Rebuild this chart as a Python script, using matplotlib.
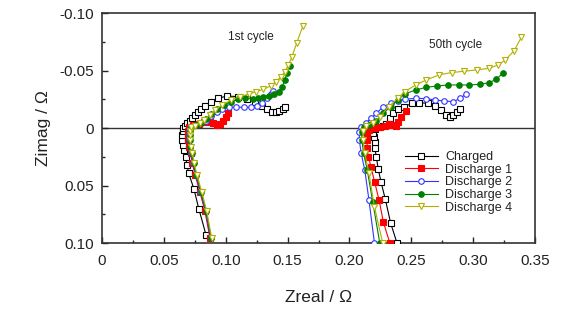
import matplotlib
matplotlib.use("Agg")
import matplotlib.pyplot as plt
from matplotlib.ticker import MultipleLocator, FixedLocator

plt.rcParams['font.family'] = ['Liberation Sans', 'DejaVu Sans']

labels = ["Charged", "Discharge 1", "Discharge 2", "Discharge 3", "Discharge 4"]
colors = ["#000000", "#FF0000", "#3333FF", "#008000", "#B0B000"]
markers = ["s", "s", "o", "o", "v"]
filled = [False, True, False, True, False]

# ---- 1st cycle ----
c1_charged_x = [0.0840, 0.0782, 0.0742, 0.0701, 0.0687, 0.0675, 0.0660, 0.0655, 0.0649, 0.0649, 0.0652,
                0.0658, 0.0669, 0.0687, 0.0710, 0.0730, 0.0753, 0.0774, 0.0797, 0.0832, 0.0878, 0.0936,
                0.1014, 0.1100, 0.1173, 0.1237, 0.1290, 0.1333, 0.1376, 0.1405, 0.1434, 0.1463, 0.1483]
c1_charged_y = [0.0927, 0.0700, 0.0526, 0.0395, 0.0317, 0.0250, 0.0195, 0.0148, 0.0105, 0.0060, 0.0026,
                0.0000, -0.0017, -0.0040, -0.0064, -0.0084, -0.0110, -0.0137, -0.0166, -0.0192, -0.0230, -0.0259,
                -0.0279, -0.0273, -0.0256, -0.0230, -0.0190, -0.0163, -0.0142, -0.0137, -0.0148, -0.0169, -0.0186]

c1_d1_x = [0.0872, 0.0832, 0.0791, 0.0753, 0.0730, 0.0716, 0.0704, 0.0698, 0.0698, 0.0698, 0.0704,
           0.0739, 0.0782, 0.0826, 0.0869, 0.0898, 0.0927, 0.0956, 0.0979, 0.1000, 0.1020]
c1_d1_y = [0.0953, 0.0724, 0.0555, 0.0410, 0.0308, 0.0220, 0.0163, 0.0105, 0.0060, 0.0026, -0.0010,
           -0.0026, -0.0035, -0.0052, -0.0055, -0.0040, -0.0030, -0.0035, -0.0064, -0.0099, -0.0134]

c1_d2_x = [0.0877, 0.0837, 0.0796, 0.0758, 0.0735, 0.0721, 0.0709, 0.0703, 0.0703, 0.0705, 0.0712,
           0.0760, 0.0800, 0.0840, 0.0884, 0.0927, 0.0970, 0.1029, 0.1086, 0.1144, 0.1202, 0.1255,
           0.1295, 0.1333, 0.1362, 0.1382]
c1_d2_y = [0.0955, 0.0724, 0.0555, 0.0410, 0.0308, 0.0220, 0.0163, 0.0105, 0.0060, 0.0026, -0.0005,
           -0.0026, -0.0040, -0.0064, -0.0105, -0.0142, -0.0163, -0.0180, -0.0183, -0.0180, -0.0180, -0.0192,
           -0.0221, -0.0259, -0.0297, -0.0326]

c1_d3_x = [0.0882, 0.0842, 0.0801, 0.0763, 0.0740, 0.0726, 0.0714, 0.0708, 0.0708, 0.0710, 0.0716,
           0.0760, 0.0800, 0.0840, 0.0884, 0.0927, 0.0985, 0.1043, 0.1101, 0.1159, 0.1217, 0.1260,
           0.1304, 0.1347, 0.1391, 0.1428, 0.1457, 0.1478, 0.1492, 0.1521]
c1_d3_y = [0.0957, 0.0724, 0.0555, 0.0410, 0.0308, 0.0220, 0.0163, 0.0105, 0.0060, 0.0026, -0.0005,
           -0.0026, -0.0045, -0.0076, -0.0119, -0.0163, -0.0200, -0.0230, -0.0250, -0.0259, -0.0253, -0.0265,
           -0.0273, -0.0282, -0.0297, -0.0317, -0.0360, -0.0419, -0.0477, -0.0541]

c1_d4_x = [0.0887, 0.0847, 0.0806, 0.0768, 0.0745, 0.0731, 0.0719, 0.0713, 0.0713, 0.0715, 0.0721,
           0.0750, 0.0790, 0.0826, 0.0869, 0.0913, 0.0970, 0.1043, 0.1115, 0.1188, 0.1246, 0.1304,
           0.1362, 0.1405, 0.1449, 0.1478, 0.1507, 0.1536, 0.1573, 0.1622]
c1_d4_y = [0.0960, 0.0724, 0.0555, 0.0410, 0.0308, 0.0220, 0.0163, 0.0105, 0.0060, 0.0026, -0.0005,
           -0.0020, -0.0040, -0.0070, -0.0113, -0.0157, -0.0200, -0.0244, -0.0273, -0.0297, -0.0317, -0.0337,
           -0.0366, -0.0404, -0.0448, -0.0491, -0.0549, -0.0622, -0.0738, -0.0884]

# ---- 50th cycle ----
c50_charged_x = [0.2384, 0.2333, 0.2290, 0.2255, 0.2232, 0.2217, 0.2206, 0.2203, 0.2197, 0.2194, 0.2203,
                 0.2232, 0.2269, 0.2298, 0.2327, 0.2356, 0.2396, 0.2443, 0.2506, 0.2564, 0.2636, 0.2694,
                 0.2743, 0.2781, 0.2810, 0.2839, 0.2868, 0.2897]
c50_charged_y = [0.1000, 0.0826, 0.0620, 0.0468, 0.0352, 0.0250, 0.0177, 0.0120, 0.0076, 0.0040, 0.0010,
                 -0.0009, -0.0017, -0.0035, -0.0084, -0.0128, -0.0163, -0.0186, -0.0215, -0.0221, -0.0215, -0.0192,
                 -0.0157, -0.0113, -0.0099, -0.0113, -0.0142, -0.0163]

c50_d1_x = [0.2326, 0.2274, 0.2240, 0.2203, 0.2174, 0.2153, 0.2144, 0.2142, 0.2145, 0.2159, 0.2203,
            0.2245, 0.2290, 0.2318, 0.2347, 0.2376, 0.2396, 0.2419, 0.2454]
c50_d1_y = [0.1000, 0.0817, 0.0628, 0.0468, 0.0337, 0.0250, 0.0177, 0.0105, 0.0047, 0.0017, 0.0003,
            -0.0006, -0.0017, -0.0035, -0.0026, -0.0017, -0.0055, -0.0099, -0.0148]

c50_d2_x = [0.2202, 0.2158, 0.2124, 0.2095, 0.2080, 0.2080, 0.2095, 0.2130, 0.2173, 0.2217, 0.2274,
            0.2332, 0.2390, 0.2448, 0.2535, 0.2622, 0.2694, 0.2767, 0.2839, 0.2897, 0.2941]
c50_d2_y = [0.1000, 0.0628, 0.0366, 0.0221, 0.0105, 0.0032, -0.0012, -0.0040, -0.0084, -0.0128, -0.0186,
            -0.0215, -0.0235, -0.0250, -0.0259, -0.0256, -0.0244, -0.0235, -0.0230, -0.0259, -0.0297]

c50_d3_x = [0.2245, 0.2188, 0.2144, 0.2115, 0.2100, 0.2100, 0.2115, 0.2159, 0.2217, 0.2274, 0.2332,
            0.2390, 0.2448, 0.2535, 0.2622, 0.2709, 0.2796, 0.2883, 0.2970, 0.3057, 0.3130, 0.3187, 0.3245]
c50_d3_y = [0.1000, 0.0640, 0.0366, 0.0221, 0.0105, 0.0032, -0.0006, -0.0026, -0.0064, -0.0128, -0.0186,
            -0.0244, -0.0297, -0.0331, -0.0355, -0.0366, -0.0375, -0.0375, -0.0375, -0.0381, -0.0395, -0.0424, -0.0483]

c50_d4_x = [0.2269, 0.2202, 0.2158, 0.2124, 0.2109, 0.2109, 0.2130, 0.2188, 0.2245, 0.2318, 0.2390,
            0.2448, 0.2535, 0.2622, 0.2723, 0.2825, 0.2926, 0.3028, 0.3129, 0.3202, 0.3260, 0.3332, 0.3390]
c50_d4_y = [0.1000, 0.0686, 0.0395, 0.0221, 0.0105, 0.0026, -0.0017, -0.0047, -0.0099, -0.0186, -0.0259,
            -0.0317, -0.0375, -0.0419, -0.0462, -0.0483, -0.0494, -0.0506, -0.0520, -0.0549, -0.0593, -0.0674, -0.0791]

cycle1 = [(c1_charged_x, c1_charged_y), (c1_d1_x, c1_d1_y), (c1_d2_x, c1_d2_y), (c1_d3_x, c1_d3_y), (c1_d4_x, c1_d4_y)]
cycle50 = [(c50_charged_x, c50_charged_y), (c50_d1_x, c50_d1_y), (c50_d2_x, c50_d2_y), (c50_d3_x, c50_d3_y), (c50_d4_x, c50_d4_y)]

x_ticks = [0, 0.05, 0.10, 0.15, 0.20, 0.25, 0.30, 0.35]
x_ticklabels = ["0", "0.05", "0.10", "0.15", "0.20", "0.25", "0.30", "0.35"]
y_ticks = [-0.10, -0.05, 0, 0.05, 0.10]
y_ticklabels = ["-0.10", "-0.05", "0", "0.05", "0.10"]

fig = plt.figure(figsize=(5.62, 3.2), dpi=100)
ax = fig.add_axes([0.1815, 0.2406, 0.7705, 0.7184])

ax.axhline(0, color="#333333", lw=1.0, zorder=1)

for i in range(5):
    for cyc in (cycle1, cycle50):
        xs, ys = cyc[i]
        ax.plot(xs, ys, color=colors[i], lw=0.8, marker=markers[i], ms=4.0 if markers[i] != "v" else 4.5,
                mfc=colors[i] if filled[i] else "white", mec=colors[i], mew=0.8,
                label=labels[i] if cyc is cycle1 else None, zorder=3 + i)

ax.set_xlim(0, 0.35)
ax.set_ylim(0.10, -0.10)
ax.xaxis.set_major_locator(FixedLocator(x_ticks))
ax.set_xticklabels(x_ticklabels)
ax.yaxis.set_major_locator(FixedLocator(y_ticks))
ax.set_yticklabels(y_ticklabels)
ax.xaxis.set_minor_locator(MultipleLocator(0.025))
ax.yaxis.set_minor_locator(MultipleLocator(0.025))
ax.tick_params(which="both", direction="in", top=False, right=False, labelsize=11, colors="#222222")
ax.tick_params(which="major", length=4, width=1)
ax.tick_params(which="minor", length=2.5, width=1)
ax.tick_params(axis="x", pad=8)
ax.tick_params(axis="y", pad=6)
for s in ax.spines.values():
    s.set_linewidth(1.2)
    s.set_color("#333333")

ax.set_xlabel("Zreal / Ω", fontsize=12.5, labelpad=16, color="#222222")
ax.set_ylabel("Zimag / Ω", fontsize=12.5, labelpad=6, color="#222222")

ax.text(0.1202, -0.0788, "1st cycle", fontsize=8.5, ha="center", va="center", color="#222222")
ax.text(0.2854, -0.0724, "50th cycle", fontsize=8.5, ha="center", va="center", color="#222222")

leg = ax.legend(loc="upper left", bbox_to_anchor=(0.70, 0.40), frameon=False, fontsize=9,
                handlelength=2.6, handletextpad=0.6, labelspacing=0.05, borderaxespad=0, borderpad=0)
for t in leg.get_texts():
    t.set_color("#222222")

fig.savefig("out.png", dpi=100)
